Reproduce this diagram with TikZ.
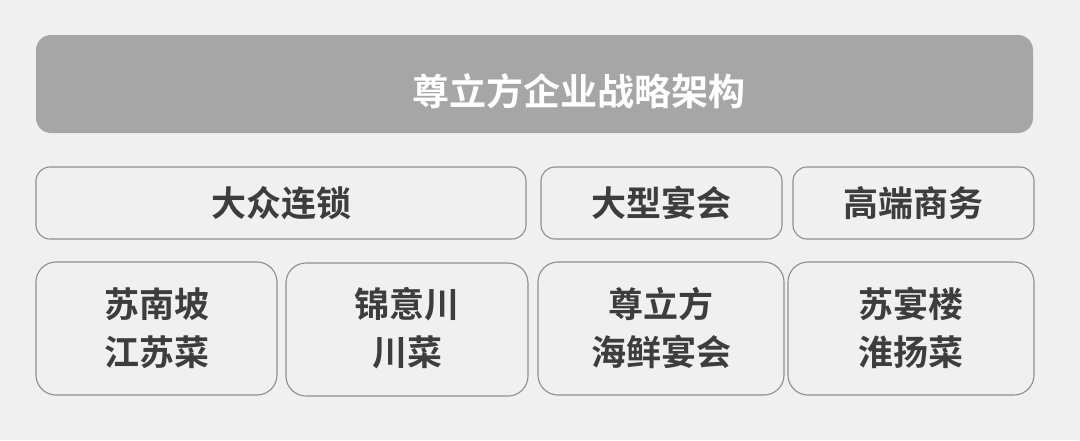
\documentclass[tikz,border=0pt]{standalone}
\usepackage{fontspec}
\newfontfamily\cjk{Noto Sans CJK SC Bold}
\definecolor{bg}{HTML}{F0F0F0}
\definecolor{barfill}{HTML}{A6A6A6}
\definecolor{edge}{HTML}{8E8E8E}
\definecolor{txt}{HTML}{3D3D3D}
\begin{document}
\begin{tikzpicture}[x=1pt,y=-1pt,
  box/.style={draw=edge,line width=1.1pt,fill=bg,rounded corners=14pt},
  bigbox/.style={draw=edge,line width=1.1pt,fill=bg,rounded corners=20pt},
  lbl/.style={text=txt,font=\cjk\fontsize{35}{48}\selectfont,align=center,inner sep=0pt},
  ttl/.style={text=white,font=\cjk\fontsize{37}{44}\selectfont,inner sep=0pt}]
\fill[bg] (0,0) rectangle (1080,440);
\useasboundingbox (0,0) rectangle (1080,440);
\fill[barfill,rounded corners=15pt] (36,35) rectangle (1033,133);
\node[ttl] (title) at (579,91) {尊立方企业战略架构};
% row 2
\draw[box] (36,167) rectangle (526,239);
\node[lbl] (dz) at (281,203) {大众连锁};
\draw[box] (541,167) rectangle (782,239);
\node[lbl] (dx) at (661,203) {大型宴会};
\draw[box] (793,167) rectangle (1034,239);
\node[lbl] (gd) at (913,203) {高端商务};
% row 3
\draw[bigbox] (36,262) rectangle (277,395);
\node[lbl] (snp) at (157,328) {苏南坡\\江苏菜};
\draw[bigbox] (286,263) rectangle (528,396);
\node[lbl] (jyc) at (407,328) {锦意川\\川菜};
\draw[bigbox] (538,262) rectangle (784,395);
\node[lbl] (zlf) at (661,328) {尊立方\\海鲜宴会};
\draw[bigbox] (788,262) rectangle (1034,395);
\node[lbl] (syl) at (911,328) {苏宴楼\\淮扬菜};
\end{tikzpicture}
\end{document}
